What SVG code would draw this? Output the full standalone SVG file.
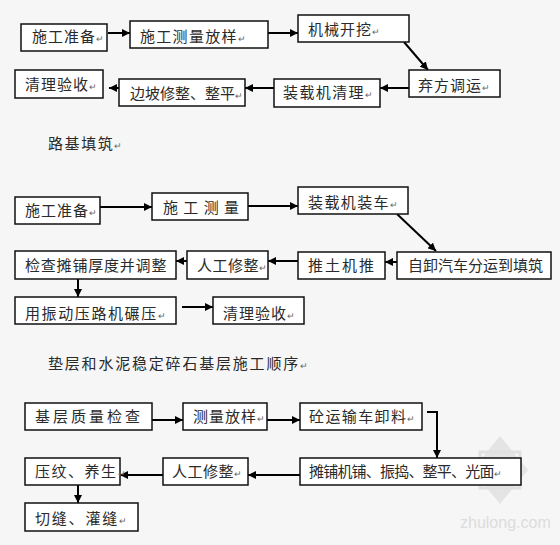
<svg xmlns="http://www.w3.org/2000/svg" width="560" height="545" viewBox="0 0 560 545">
<style>
.bx{fill:#fff;stroke:#111;stroke-width:1.5}
.t{font-family:"Noto Sans CJK SC","Liberation Sans",sans-serif;font-size:15px;fill:#2a2a2a;letter-spacing:1px}
.r{font-size:9px;fill:#666;letter-spacing:0}
.h{font-family:"Noto Sans CJK SC","Liberation Sans",sans-serif;font-size:15px;fill:#2a2a2a;letter-spacing:1.6px}
.c{fill:none;stroke:#000;stroke-width:2}
</style>
<defs>
<marker id="a" viewBox="0 0 10 10" refX="10" refY="5" markerWidth="8" markerHeight="8" markerUnits="userSpaceOnUse" orient="auto">
<path d="M0,0 L10,5 L0,10 z" fill="#000"/>
</marker>
</defs>
<rect width="560" height="545" fill="#f6f6f6"/>

<g id="wm" opacity="0.55">
<polygon points="500,436 528,470 500,504 472,470" fill="#d6d6d6"/>
<polygon points="480,452 520,452 520,488 480,488" fill="none" stroke="#d0d0d0" stroke-width="3"/>
<text x="460" y="528" font-family="Liberation Sans,sans-serif" font-size="16" fill="#c8c8c8">zhulong.com</text>
</g>

<g id="connectors">
<path class="c" d="M108,33 H130" marker-end="url(#a)"/>
<path class="c" d="M268,33 H298" marker-end="url(#a)"/>
<path class="c" d="M404,42 L428,70" marker-end="url(#a)"/>
<path class="c" d="M409,88 H380" marker-end="url(#a)"/>
<path class="c" d="M274,88 H245" marker-end="url(#a)"/>
<path class="c" d="M119,88 H109" marker-end="url(#a)"/>

<path class="c" d="M100,207 H152" marker-end="url(#a)"/>
<path class="c" d="M248,206 H298" marker-end="url(#a)"/>
<path class="c" d="M397,214 L436,251" marker-end="url(#a)"/>
<path class="c" d="M397,262 H385" marker-end="url(#a)"/>
<path class="c" d="M298,261 H268" marker-end="url(#a)"/>
<path class="c" d="M187,261 H176" marker-end="url(#a)"/>
<path class="c" d="M78,279 V297" marker-end="url(#a)"/>
<path class="c" d="M182,307 H213" marker-end="url(#a)"/>

<path class="c" d="M152,420 H183" marker-end="url(#a)"/>
<path class="c" d="M258,420 H300" marker-end="url(#a)"/>
<path class="c" d="M427,412 H437 V458" marker-end="url(#a)"/>
<path class="c" d="M300,475 H248" marker-end="url(#a)"/>
<path class="c" d="M163,475 H120" marker-end="url(#a)"/>
<path class="c" d="M78,485 V503" marker-end="url(#a)"/>
</g>

<g id="n1"><rect class="bx" x="21" y="24" width="86" height="27"/><text class="t" x="32" y="42">施工准备<tspan class="r">↵</tspan></text></g>
<g id="n2"><rect class="bx" x="130" y="21" width="138" height="27"/><text class="t" x="140" y="42" style="letter-spacing:1.3px">施工测量放样<tspan class="r">↵</tspan></text></g>
<g id="n3"><rect class="bx" x="298" y="15" width="111" height="27"/><text class="t" x="308" y="35">机械开挖<tspan class="r">↵</tspan></text></g>
<g id="n4"><rect class="bx" x="409" y="70" width="91" height="27"/><text class="t" x="418" y="91">弃方调运<tspan class="r">↵</tspan></text></g>
<g id="n5"><rect class="bx" x="274" y="79" width="106" height="28"/><text class="t" x="283" y="98" style="letter-spacing:1.4px">装载机清理<tspan class="r">↵</tspan></text></g>
<g id="n6"><rect class="bx" x="119" y="79" width="126" height="27"/><text class="t" x="130" y="99" style="letter-spacing:0px">边坡修整、整平<tspan class="r">↵</tspan></text></g>
<g id="n7"><rect class="bx" x="15" y="70" width="88" height="28"/><text class="t" x="25" y="90">清理验收<tspan class="r">↵</tspan></text></g>

<g id="label1"><text class="h" x="48" y="149">路基填筑<tspan class="r">↵</tspan></text></g>

<g id="m1"><rect class="bx" x="15" y="197" width="85" height="27"/><text class="t" x="25" y="216">施工准备<tspan class="r">↵</tspan></text></g>
<g id="m2"><rect class="bx" x="152" y="193" width="96" height="27"/><text class="t" x="163" y="213" textLength="77" lengthAdjust="spacing">施 工 测 量</text></g>
<g id="m3"><rect class="bx" x="298" y="187" width="110" height="27"/><text class="t" x="308" y="208" style="letter-spacing:1.4px">装载机装车<tspan class="r">↵</tspan></text></g>
<g id="m4"><rect class="bx" x="397" y="252" width="154" height="27"/><text class="t" x="408" y="271" style="letter-spacing:0px">自卸汽车分运到填筑</text></g>
<g id="m5"><rect class="bx" x="298" y="252" width="87" height="27"/><text class="t" x="308" y="271" style="letter-spacing:2px">推土机推</text></g>
<g id="m6"><rect class="bx" x="187" y="251" width="81" height="28"/><text class="t" x="197" y="271" style="letter-spacing:0.5px">人工修整<tspan class="r">↵</tspan></text></g>
<g id="m7"><rect class="bx" x="15" y="251" width="161" height="28"/><text class="t" x="25" y="271" style="letter-spacing:0.8px">检查摊铺厚度并调整</text></g>
<g id="m8"><rect class="bx" x="15" y="297" width="161" height="27"/><text class="t" x="25" y="319" style="letter-spacing:1.6px">用振动压路机碾压<tspan class="r">↵</tspan></text></g>
<g id="m9"><rect class="bx" x="213" y="297" width="91" height="27"/><text class="t" x="223" y="319">清理验收<tspan class="r">↵</tspan></text></g>

<g id="label2"><text class="h" x="48" y="369" style="letter-spacing:1.8px">垫层和水泥稳定碎石基层施工顺序<tspan class="r">↵</tspan></text></g>

<g id="k1"><rect class="bx" x="25" y="403" width="127" height="27"/><text class="t" x="35" y="422" style="letter-spacing:3px">基层质量检查</text></g>
<g id="k2"><rect class="bx" x="183" y="403" width="84" height="27"/><text class="t" x="193" y="422">测量放样<tspan class="r">↵</tspan></text></g>
<g id="k3"><rect class="bx" x="300" y="403" width="122" height="27"/><text class="t" x="309" y="422" style="letter-spacing:1.4px">砼运输车卸料<tspan class="r">↵</tspan></text></g>
<g id="k4"><rect class="bx" x="300" y="458" width="221" height="27"/><text class="t" x="309" y="477" style="letter-spacing:-0.8px">摊铺机铺、振捣、整平、光面<tspan class="r">↵</tspan></text></g>
<g id="k5"><rect class="bx" x="163" y="458" width="85" height="27"/><text class="t" x="172" y="477" style="letter-spacing:0.5px">人工修整<tspan class="r">↵</tspan></text></g>
<g id="k6"><rect class="bx" x="25" y="458" width="95" height="27"/><text class="t" x="35" y="477" style="letter-spacing:1.5px">压纹、养生<tspan class="r">↵</tspan></text></g>
<g id="k7"><rect class="bx" x="25" y="503" width="113" height="28"/><text class="t" x="35" y="524" style="letter-spacing:1.8px">切缝、灌缝<tspan class="r">↵</tspan></text></g>
</svg>
